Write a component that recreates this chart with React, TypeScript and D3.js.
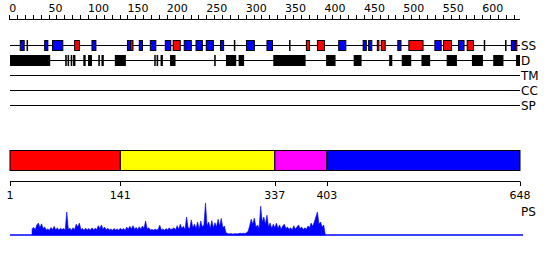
import React from "react";
import * as d3 from "d3";

const SEQ_LENGTH = 648;

// Secondary structure elements (residue ranges); H = red, E = blue, C = black mark
const ssStart = [14, 22, 45, 55, 83, 105, 150, 154, 165, 179, 198, 208, 222, 237, 250, 268, 285, 301, 327, 355, 377, 391, 418, 449, 456, 467, 472, 493, 507, 540, 551, 570, 581, 602, 629, 637, 642];
const ssEnd = [19, 23, 49, 68, 89, 110, 154, 157, 169, 186, 205, 217, 231, 245, 259, 272, 286, 311, 334, 356, 381, 400, 427, 453, 460, 469, 477, 497, 525, 548, 561, 577, 589, 603, 630, 642, 644];
const ssType = ["E", "C", "E", "E", "H", "E", "E", "H", "E", "E", "E", "H", "E", "E", "E", "E", "C", "E", "E", "C", "H", "H", "E", "E", "E", "H", "H", "E", "H", "E", "H", "E", "H", "C", "C", "E", "H"];

// Disorder segments
const disStart = [1, 71, 74, 78, 81, 94, 100, 113, 117, 134, 184, 187, 192, 204, 260, 275, 291, 335, 402, 437, 482, 498, 523, 555, 587, 614, 643];
const disEnd = [52, 73, 76, 80, 84, 97, 105, 115, 120, 148, 185, 189, 195, 211, 262, 288, 298, 376, 414, 447, 486, 510, 534, 568, 601, 627, 648];

const trackLabels = ["SS", "D", "TM", "CC", "SP"];

// Domain boundaries
const domainBounds = [1, 141, 337, 403, 648];
const domainColors = ["#ff0000", "#ffff00", "#ff00ff", "#0000ff"];

// PS profile: one value every 2 residues starting at residue 29
const psStartResidue = 29;
const psStep = 2;
const psValues = [
  17, 21, 15, 28, 33, 20, 31, 18, 22, 14,
  17, 13, 21, 15, 24, 14, 20, 13, 19, 15,
  18, 14, 64, 16, 19, 13, 20, 15, 30, 22,
  33, 15, 18, 13, 19, 14, 18, 13, 20, 14,
  19, 15, 26, 18, 28, 16, 22, 14, 19, 14,
  17, 13, 18, 14, 17, 13, 19, 14, 18, 13,
  22, 16, 24, 17, 26, 16, 21, 15, 23, 16,
  25, 18, 39, 17, 20, 14, 16, 13, 17, 14,
  16, 27, 14, 17, 13, 18, 14, 20, 15, 17,
  20, 14, 26, 16, 30, 18, 24, 15, 50, 20,
  18, 42, 20, 30, 18, 36, 16, 39, 22, 28,
  89, 25, 36, 18, 40, 20, 34, 22, 44, 24,
  46, 20, 25, 6, 4, 3, 4, 3, 3, 4,
  3, 4, 5, 4, 5, 4, 6, 10, 25, 44,
  30, 47, 22, 28, 18, 80, 36, 50, 30, 55,
  22, 33, 18, 30, 20, 33, 18, 28, 16, 25,
  30, 18, 22, 16, 20, 14, 26, 16, 22, 28,
  18, 22, 15, 20, 16, 25, 20, 33, 24, 36,
  50, 64, 30, 36, 22, 28, 0,
];

const rulerMax = 640;
const rulerLabelStep = 50;

export default function App() {
  const x = d3.scaleLinear().domain([1, SEQ_LENGTH]).range([10, 520]);
  const xr = d3.scaleLinear().domain([0, SEQ_LENGTH]).range([9.2, 520]);
  const yPS = d3.scaleLinear().domain([0, 100]).range([235, 199]);

  const font = "DejaVu Sans, Verdana, sans-serif";
  const rulerTicks = d3.range(0, rulerMax + 1, 10);
  const trackY = [45, 60, 75, 90, 105];

  const psData = psValues.map((v, i) => ({ r: psStartResidue + i * psStep, v }));
  const area = d3
    .area<{ r: number; v: number }>()
    .x((d) => x(d.r))
    .y0(yPS(0))
    .y1((d) => yPS(d.v));

  const ssColor = (t: string) => (t === "H" ? "#ff0000" : t === "E" ? "#0000ff" : "#000000");

  return (
    <svg
      width={550}
      height={260}
      style={{ position: "absolute", left: 0, top: 0, background: "#fff" }}
      fontFamily={font}
    >
      <rect width={550} height={260} fill="#fff" />
      {/* Ruler */}
      <line x1={xr(0)} x2={x(SEQ_LENGTH)} y1={19.5} y2={19.5} stroke="#000" />
      {rulerTicks.map((t) => (
        <line key={t} x1={Math.round(xr(t)) + 0.5} x2={Math.round(xr(t)) + 0.5} y1={15} y2={19.5} stroke="#000" />
      ))}
      {rulerTicks
        .filter((t) => t % rulerLabelStep === 0)
        .map((t) => (
          <text key={t} x={xr(t)} y={12} fontSize={11} textAnchor="start">
            {t}
          </text>
        ))}

      {/* Track lines and labels */}
      {trackLabels.map((lab, i) => (
        <g key={lab}>
          <line x1={x(1)} x2={x(SEQ_LENGTH)} y1={trackY[i] + 0.5} y2={trackY[i] + 0.5} stroke="#000" />
          <text x={521} y={trackY[i] + 5} fontSize={12}>
            {lab}
          </text>
        </g>
      ))}

      {/* SS elements */}
      {ssStart.map((s, i) => {
        const t = ssType[i];
        const x0 = x(s);
        const x1 = x(ssEnd[i]);
        if (t === "C") {
          return <rect key={i} x={x0} y={40} width={Math.max(1.5, x1 - x0)} height={11} fill="#000" />;
        }
        return (
          <rect key={i} x={x0} y={40.5} width={x1 - x0} height={10} fill={ssColor(t)} stroke="#000" strokeWidth={1} />
        );
      })}

      {/* Disorder */}
      {disStart.map((s, i) => (
        <rect key={i} x={x(s)} y={55} width={Math.max(1.5, x(disEnd[i]) - x(s))} height={11} fill="#000" />
      ))}

      {/* Domain bar */}
      {domainColors.map((c, i) => (
        <rect
          key={i}
          x={x(domainBounds[i])}
          y={150.5}
          width={x(domainBounds[i + 1]) - x(domainBounds[i])}
          height={20}
          fill={c}
          stroke="#000"
        />
      ))}

      {/* Domain axis */}
      <line x1={x(1)} x2={x(SEQ_LENGTH)} y1={181.5} y2={181.5} stroke="#000" />
      {domainBounds.map((b) => (
        <g key={b}>
          <line x1={Math.round(x(b)) + 0.5} x2={Math.round(x(b)) + 0.5} y1={181.5} y2={186} stroke="#000" />
          <text x={x(b)} y={199} fontSize={11} textAnchor="middle">
            {b}
          </text>
        </g>
      ))}
      <text x={521} y={216} fontSize={12}>
        PS
      </text>

      {/* PS profile */}
      <path d={area(psData) || ""} fill="#0000ff" stroke="#0000ff" strokeWidth={0.6} />
      <line x1={x(1)} x2={x(SEQ_LENGTH) + 3} y1={235} y2={235} stroke="#0000ff" strokeWidth={1.5} />
    </svg>
  );
}
